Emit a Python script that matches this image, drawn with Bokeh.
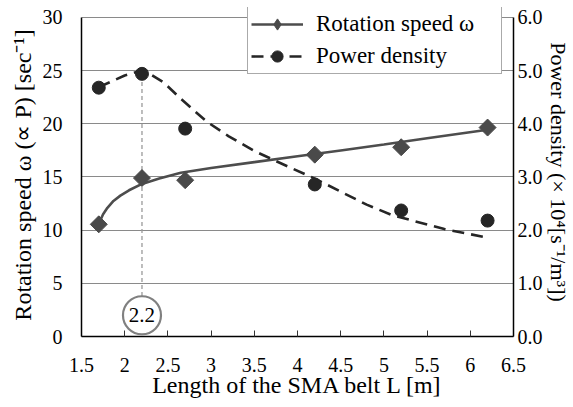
from bokeh.plotting import figure
from bokeh.models import (Range1d, LinearAxis, FixedTicker, PrintfTickFormatter,
                          Legend, LegendItem)
from bokeh.core.properties import value
from bokeh.embed import file_html
from bokeh.resources import INLINE

# ---- data ----
belt_length = [1.7, 2.2, 2.7, 4.2, 5.2, 6.2]
rotation_speed = [10.55, 14.9, 14.7, 17.1, 17.8, 19.65]
power_density = [4.68, 4.94, 3.91, 2.86, 2.37, 2.18]

# fitted (smooth) curves as drawn in the figure
speed_fit_x = [1.70, 1.75, 1.80, 1.87, 1.95, 2.05, 2.2, 2.4, 2.65, 3.0, 3.5, 4.0, 4.5, 5.0, 5.5, 6.2]
speed_fit_y = [10.6, 11.5, 12.1, 12.75, 13.25, 13.75, 14.35, 14.85, 15.4, 15.85, 16.4, 16.95, 17.5, 18.05, 18.65, 19.45]
power_fit_x = [1.70, 1.85, 2.0, 2.15, 2.3, 2.45, 2.65, 2.95, 3.2, 3.5, 3.75, 4.2, 4.8, 5.1, 5.7, 6.2]
power_fit_y = [4.69, 4.80, 4.91, 4.98, 4.93, 4.78, 4.47, 4.04, 3.77, 3.49, 3.30, 2.97, 2.48, 2.28, 2.02, 1.86]

x_ticks = [1.5, 2, 2.5, 3, 3.5, 4, 4.5, 5, 5.5, 6, 6.5]
x_tick_labels = ["1.5", "2", "2.5", "3", "3.5", "4", "4.5", "5", "5.5", "6", "6.5"]
left_ticks = [0, 5, 10, 15, 20, 25, 30]
right_ticks = [0, 1, 2, 3, 4, 5, 6]

peak_x = 2.2
peak_label = "2.2"

x_title = "Length of the SMA belt L [m]"
left_title = "Rotation speed  ω (∝ P) [sec⁻¹]"
right_title = "Power density (× 10⁴[s⁻¹/m³])"
series_names = ["Rotation speed ω", "Power density"]

FONT = "Liberation Serif"

p = figure(width=573, height=407, output_backend="svg", toolbar_location=None,
           x_range=Range1d(1.5, 6.5), y_range=Range1d(0, 30.94),
           min_border_left=81, min_border_right=60, min_border_top=7, min_border_bottom=71)
p.outline_line_color = None
p.background_fill_color = "white"
p.border_fill_color = "white"
p.extra_y_ranges = {"right": Range1d(0, 6.188)}

# grid
p.xgrid.visible = False
p.ygrid.ticker = FixedTicker(ticks=left_ticks[1:])
p.ygrid.grid_line_color = "#8a8a8a"
p.ygrid.grid_line_width = 1

# x axis
xa = p.xaxis[0]
xa.ticker = FixedTicker(ticks=x_ticks)
xa.major_label_overrides = {t: s for t, s in zip(x_ticks, x_tick_labels)}
xa.major_tick_in = 6
xa.major_tick_out = 0
xa.minor_tick_line_color = None
xa.axis_line_color = "black"
xa.axis_line_width = 1.5
xa.major_tick_line_color = "#333333"
xa.major_label_text_font = FONT
xa.major_label_text_font_size = "20px"
xa.major_label_text_color = "black"
xa.major_label_standoff = 21
xa.axis_label = x_title
xa.axis_label_text_font = FONT
xa.axis_label_text_font_size = "24px"
xa.axis_label_text_font_style = "normal"
xa.axis_label_text_color = "black"
xa.axis_label_standoff = -3

# left axis (ticks)
ya = p.yaxis[0]
ya.ticker = FixedTicker(ticks=left_ticks)
ya.bounds = (0, 30)
ya.major_tick_in = 0
ya.major_tick_out = 0
ya.minor_tick_line_color = None
ya.axis_line_color = "black"
ya.axis_line_width = 1.5
ya.major_label_text_font = FONT
ya.major_label_text_font_size = "20px"
ya.major_label_text_color = "black"
ya.major_label_standoff = 19


def title_axis(text, range_name, center, half, size, standoff):
    ax = LinearAxis(y_range_name=range_name)
    ax.ticker = FixedTicker(ticks=[])
    ax.bounds = (center - half, center + half)
    ax.axis_line_color = None
    ax.major_tick_line_color = None
    ax.minor_tick_line_color = None
    ax.major_label_text_font_size = "0px"
    ax.axis_label = text
    ax.axis_label_text_font = FONT
    ax.axis_label_text_font_size = size
    ax.axis_label_text_font_style = "normal"
    ax.axis_label_text_color = "black"
    ax.axis_label_standoff = standoff
    return ax


p.add_layout(title_axis(left_title, "default", 12.45, 5, "24px", 4), "left")

# right axis (ticks)
ra = LinearAxis(y_range_name="right")
ra.ticker = FixedTicker(ticks=right_ticks)
ra.bounds = (0, 6)
ra.formatter = PrintfTickFormatter(format="%.1f")
ra.major_tick_in = 0
ra.major_tick_out = 0
ra.minor_tick_line_color = None
ra.axis_line_color = "black"
ra.axis_line_width = 1.5
ra.major_label_text_font = FONT
ra.major_label_text_font_size = "20px"
ra.major_label_text_color = "black"
ra.major_label_standoff = 4
p.add_layout(ra, "right")
p.add_layout(title_axis(right_title, "right", 2.78, 1, "22px", 0), "right")

# vertical guide at the peak
p.segment(x0=[peak_x], y0=[3.8], x1=[peak_x], y1=[power_density[1] * 5],
          line_color="#9a9a9a", line_width=1.3, line_dash="4 3")
p.scatter(x=[peak_x], y=[2.0], size=38, marker="circle", fill_color="white",
          line_color="#808080", line_width=2.2)
p.text(x=[peak_x], y=[2.0], text=[peak_label], text_align="center", text_baseline="middle",
       text_font=value(FONT), text_font_size="21px", text_color="black")

# series
speed_line = p.line(speed_fit_x, speed_fit_y, line_color="#4d4d4d", line_width=2.6)
speed_legend_marker = p.scatter(belt_length, rotation_speed, marker="diamond", size=15,
                                fill_color="#4a4a4a", line_color="#4a4a4a")
p.scatter(belt_length, rotation_speed, marker="square", angle=0.785398, size=12,
          fill_color="#4a4a4a", line_color="#4a4a4a")

power_line = p.line(power_fit_x, power_fit_y, y_range_name="right", line_color="#262626",
                    line_width=2.6, line_dash="12 7")
power_pts = p.scatter(belt_length, power_density, y_range_name="right", marker="circle",
                      size=13, fill_color="#262626", line_color="#262626")

# legend
lg = Legend(items=[LegendItem(label=series_names[0], renderers=[speed_line, speed_legend_marker]),
                   LegendItem(label=series_names[1], renderers=[power_line, power_pts])])
lg.location = (166, 262)
lg.label_text_font = FONT
lg.label_text_font_size = "23px"
lg.label_text_color = "black"
lg.glyph_width = 52
lg.glyph_height = 28
lg.label_height = 28
lg.label_width = 182
lg.label_standoff = 13
lg.spacing = 4
lg.padding = 3
lg.margin = 0
lg.border_line_color = "#555555"
lg.border_line_width = 1
lg.background_fill_color = "white"
lg.background_fill_alpha = 1.0
p.add_layout(lg, "center")

open("out.html", "w").write(file_html(p, INLINE))
